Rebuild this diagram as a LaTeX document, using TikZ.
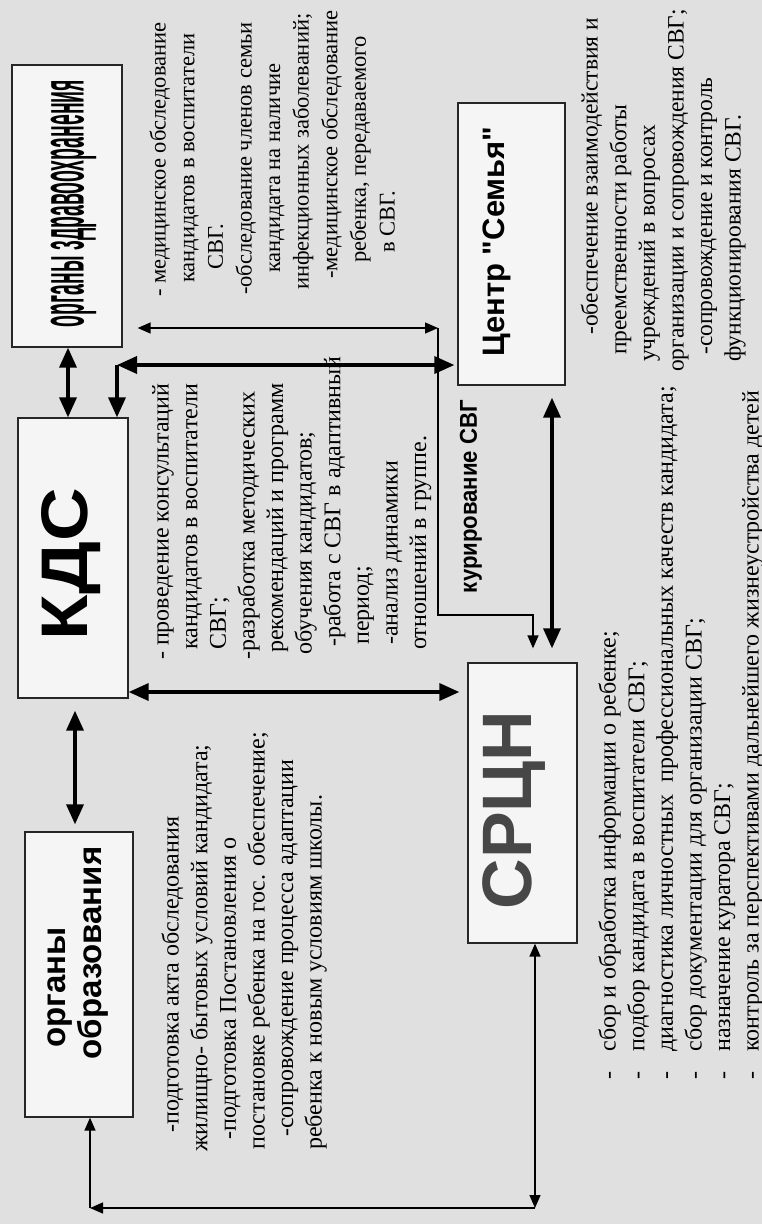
\documentclass[tikz,border=0pt]{standalone}
\usepackage{graphicx}
\usepackage{fontspec}
\setmainfont{Liberation Serif}
\newfontfamily\headfont{Liberation Sans}
\usetikzlibrary{arrows.meta}

\tikzset{
  box/.style={draw=black!85,line width=1.3pt,fill=black!4,inner sep=0pt},
  heading/.style={rotate=90,inner sep=0pt,font=\headfont\bfseries},
  notes/.style={rotate=90,anchor=north west,inner sep=0pt,align=left,
    font=\fontsize{24}{28.6}\selectfont},
  fat/.style={line width=3.5pt,>={Triangle[length=20pt,width=17pt]}},
  slim/.style={line width=1.4pt,>={Triangle[length=13pt,width=11pt]}},
}

\begin{document}
\begin{tikzpicture}[x=1pt,y=-1pt]
		\fill[black!12] (0,0) rectangle (762,1224);
		\useasboundingbox (0,0) rectangle (762,1224);
		% boxes
		\node[box,minimum width=110pt,minimum height=282pt] (zdr) at (67,206) {};
		\node[box,minimum width=110pt,minimum height=280pt] (kds) at (73,558) {};
		\node[box,minimum width=108pt,minimum height=285pt] (obr) at (79,974.5) {};
		\node[box,minimum width=107pt,minimum height=282pt] (centr) at (511.5,244) {};
		\node[box,minimum width=109pt,minimum height=280pt] (srcn) at (522.5,803) {};
		%
		\node[heading] (zdr-t) at (73.5,203.5) {\resizebox{247pt}{33pt}{органы здравоохранения}};
		\node[heading] (kds-t) at (71.5,564) {\resizebox{152pt}{46pt}{КДС}};
		\node[heading,align=left,font=\headfont\bfseries\fontsize{33}{36}\selectfont] (obr-t) at (78,953) {\hspace*{12pt}органы\\образования};
		\node[heading,font=\headfont\bfseries\fontsize{31}{36}\selectfont] (centr-t) at (497,241.5) {Центр "Семья"};
		\node[heading] (kur-t) at (471,496.5) {\resizebox{193pt}{17pt}{курирование СВГ}};
		\node[heading,text=black!72,font=\headfont\bfseries\fontsize{70}{76}\selectfont] (srcn-t) at (514,810) {СРЦН};
		%
		\node[notes,font=\fontsize{22.5}{28.6}\selectfont] (zdr-n) at (145.5,297) {\strut- медицинское обследование\\
			\hspace*{14pt}кандидатов в воспитатели\\
			\hspace*{27pt}СВГ.\\
			\hspace*{2pt}-обследование членов семьи\\
			\hspace*{24pt}кандидата на наличие\\
			\hspace*{7pt}инфекционных заболеваний;\\
			\hspace*{18pt}-медицинское обследование\\
			\hspace*{34pt}ребенка, передаваемого\\
			\hspace*{44pt}в СВГ.};
		\node[notes] (kds-n) at (148.5,662) {\strut\hspace*{2pt}- проведение консультаций\\
			\hspace*{12pt}кандидатов в воспитатели\\
			\hspace*{12pt}СВГ;\\
			\hspace*{2pt}-разработка методических\\
			\hspace*{9pt}рекомендаций и программ\\
			\hspace*{7pt}обучения кандидатов;\\
			\hspace*{15pt}-работа с СВГ в адаптивный\\
			\hspace*{17pt}период;\\
			\hspace*{17pt}-анализ динамики\\
			\hspace*{12pt}отношений в группе.};
		\node[notes] (obr-n) at (158.5,1152) {\strut\hspace*{19pt}-подготовка акта обследования\\
			жилищно- бытовых условий кандидата;\\
			\hspace*{12pt}-подготовка Постановления о\\
			\hspace*{2pt}постановке ребенка на гос. обеспечение;\\
			\hspace*{15pt}-сопровождение процесса адаптации\\
			\hspace*{2pt}ребенка к новым условиям школы.};
		\node[notes,font=\fontsize{23.5}{28.6}\selectfont] (centr-n) at (577.5,372) {\strut\hspace*{37pt}-обеспечение взаимодействия и\\
			\hspace*{17pt}преемственности работы\\
			\hspace*{10pt}учреждений в вопросах\\
			организации и сопровождения СВГ;\\
			\hspace*{17pt}-сопровождение и контроль\\
			\hspace*{10pt}функционирования СВГ.};
		\node[notes] (srcn-n) at (595.5,1080) {\strut\makebox[28pt][l]{-}сбор и обработка информации о ребенке;\\
			\makebox[28pt][l]{-}подбор кандидата в воспитатели СВГ;\\
			\makebox[28pt][l]{-}диагностика личностных\ \ профессиональных качеств кандидата;\\
			\makebox[28pt][l]{-}сбор документации для организации СВГ;\\
			\makebox[28pt][l]{-}назначение куратора СВГ;\\
			\makebox[28pt][l]{-}контроль за перспективами дальнейшего жизнеустройства детей};
		%
		\coordinate (c1) at (117,365);
		\coordinate (t1) at (438,328);
		\coordinate (t2) at (438,615);
		\coordinate (t3) at (533,615);
		\coordinate (b1) at (535,1208);
		\coordinate (b2) at (90,1208);
		%
		\path[fat,<->]
		(68,0 |- zdr.south) edge (68,0 |- kds.north)
		(75,0 |- kds.south) edge[shorten <=12pt,shorten >=7pt] (75,0 |- obr.north)
		(kds.east |- 0,692) edge[shorten >=8pt] (srcn.west |- 0,692)
		(552,0 |- centr.south) edge[shorten <=12pt,shorten >=14pt] (552,0 |- srcn.north)
		(c1) edge[shorten >=3pt] (c1 -| centr.west);
		\draw[fat,->] (c1) -- (c1 |- kds.north);
		%
		\draw[slim,<->,shorten <=15pt] (zdr.east |- t1) -- (t1);
		\draw[slim,->,shorten >=14pt] (t1) -- (t2) -- (t3) -- (t3 |- srcn.north);
		\draw[slim,<->] (b1 |- srcn.south) -- (b1);
		\draw[slim,->] (b1) -- (b2);
		\draw[slim,->] (b2) -- (b2 |- obr.south);
\end{tikzpicture}
\end{document}
